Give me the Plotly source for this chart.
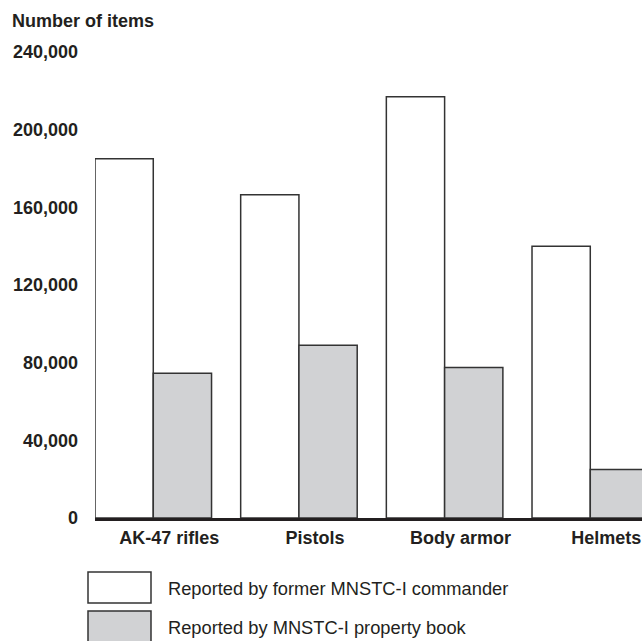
import plotly.graph_objects as go

categories = ["AK-47 rifles", "Pistols", "Body armor", "Helmets"]
commander_values = [185000, 166500, 217000, 140000]
property_book_values = [74500, 89000, 77500, 25000]
series_names = ["Reported by former MNSTC-I commander", "Reported by MNSTC-I property book"]
y_tick_values = [0, 40000, 80000, 120000, 160000, 200000, 240000]
y_tick_labels = ["0", "40,000", "80,000", "120,000", "160,000", "200,000", "240,000"]
y_title = "Number of items"

W, H = 642, 641
L, R, T, B = 95, 0, 52, 123
pw = W - L - R
ph = H - T - B

FONT = "Liberation Sans, Arial, Helvetica, sans-serif"
INK = "#231f20"
GRAY = "#d1d2d4"
EDGE = "#333333"

fig = go.Figure()
fig.add_trace(go.Bar(x=categories, y=commander_values, name=series_names[0],
                     marker=dict(color="white", line=dict(color=EDGE, width=1.5))))
fig.add_trace(go.Bar(x=categories, y=property_book_values, name=series_names[1],
                     marker=dict(color=GRAY, line=dict(color=EDGE, width=1.5))))

def px_x(p):
    return (p - L) / pw

def px_y(p):
    return (H - B - p) / ph

shapes = []
annotations = []
fills = ["white", GRAY]
box_tops = [572, 611]
box_bots = [603, 645]
text_centers = [588, 627]
for i in range(2):
    shapes.append(dict(type="rect", xref="paper", yref="paper",
                       x0=px_x(88), x1=px_x(151), y0=px_y(box_bots[i]), y1=px_y(box_tops[i]),
                       fillcolor=fills[i], line=dict(color=EDGE, width=1.5)))
    annotations.append(dict(text=series_names[i], xref="paper", yref="paper",
                            x=px_x(166), y=px_y(text_centers[i]), xanchor="left", yanchor="middle",
                            showarrow=False, font=dict(family=FONT, size=18.3, color=INK)))

annotations.append(dict(text="<b>" + y_title + "</b>", xref="paper", yref="paper",
                        x=px_x(10), y=px_y(21), xanchor="left", yanchor="middle",
                        showarrow=False, font=dict(family=FONT, size=18, color=INK)))

fig.update_layout(
    width=W, height=H,
    margin=dict(l=L, r=R, t=T, b=B, pad=0),
    paper_bgcolor="white", plot_bgcolor="white",
    showlegend=False,
    barmode="group", bargap=0.2, bargroupgap=0,
    shapes=shapes, annotations=annotations,
    xaxis=dict(range=[-0.4, -0.4 + pw / 145.67], showgrid=False, zeroline=False,
               showline=True, linewidth=3, linecolor=INK, ticks="",
               tickfont=dict(family=FONT, size=18, color=INK, weight="bold"),
               ticklabelshift=16, ticklabelstandoff=1, fixedrange=True),
    yaxis=dict(range=[0, 240000], tickvals=y_tick_values, ticktext=y_tick_labels,
               showgrid=False, zeroline=False, showline=False, ticks="",
               tickfont=dict(family=FONT, size=18, color=INK, weight="bold"),
               ticklabelstandoff=16, fixedrange=True),
)

fig.write_html("out.html", config={"displayModeBar": False},
               post_script="document.body.style.margin='0';document.body.style.padding='0';document.body.style.overflow='hidden';")
